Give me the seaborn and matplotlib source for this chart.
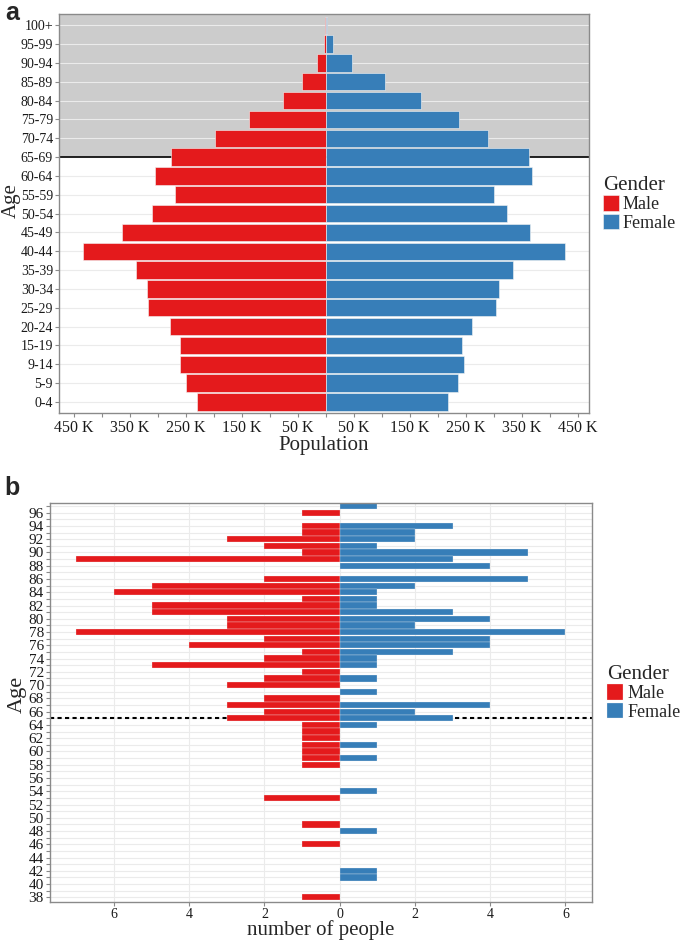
"""Population pyramid (a) and age/gender counts (b) – recreated with seaborn."""
import numpy as np
import pandas as pd
import matplotlib
matplotlib.use("Agg")
import matplotlib.pyplot as plt
import seaborn as sns

# ── DATA ─────────────────────────────────────────────────
# panel a: population by 5-year age group (thousands)
age_groups = ["0-4", "5-9", "9-14", "15-19", "20-24", "25-29", "30-34",
              "35-39", "40-44", "45-49", "50-54", "55-59", "60-64", "65-69",
              "70-74", "75-79", "80-84", "85-89", "90-94", "95-99", "100+"]
male_pop_k = [231, 249, 261, 260, 278, 317, 319, 340, 434, 365, 311, 270,
              305, 276, 198, 137, 77, 42, 15.5, 4, 1]
female_pop_k = [218, 235, 246, 242, 261, 303, 308, 333, 427, 364, 324, 300,
                367, 362, 290, 238, 169, 105, 46, 13, 2]

# panel b: number of people by single year of age (38 ... 97)
ages = list(range(38, 98))
male_count = [1, 0, 0, 0, 0, 0, 0, 0, 1, 0,      # 38-47
              0, 1, 0, 0, 0, 2, 0, 0, 0, 0,      # 48-57
              1, 1, 1, 1, 1, 1, 1, 3, 2, 3,      # 58-67
              2, 0, 3, 2, 1, 5, 2, 1, 4, 2,      # 68-77
              7, 3, 3, 5, 5, 1, 6, 5, 2, 0,      # 78-87
              0, 7, 1, 2, 3, 1, 1, 0, 1, 0]      # 88-97
female_count = [0, 0, 0, 1, 1, 0, 0, 0, 0, 0,    # 38-47
                1, 0, 0, 0, 0, 0, 1, 0, 0, 0,    # 48-57
                0, 1, 0, 1, 0, 0, 1, 3, 2, 4,    # 58-67
                0, 1, 0, 1, 0, 1, 1, 3, 4, 4,    # 68-77
                6, 2, 4, 3, 1, 1, 1, 2, 5, 0,    # 78-87
                4, 3, 5, 1, 2, 2, 3, 0, 0, 1]    # 88-97

RED, BLUE = "#E41A1C", "#377EB8"
palette = {"Male": RED, "Female": BLUE}

sns.set_style("white")
plt.rcParams["font.family"] = ["Liberation Serif", "DejaVu Serif"]

fig = plt.figure(figsize=(6.85, 9.41), dpi=100)
ax1 = fig.add_axes([0.0866, 0.5608, 0.7728, 0.4243])
ax2 = fig.add_axes([0.0730, 0.04145, 0.7908, 0.4243])

# ── PANEL A ──────────────────────────────────────────────
df_a = pd.DataFrame({
    "Age": age_groups * 2,
    "Population": [-v * 1000 for v in male_pop_k] + [v * 1000 for v in female_pop_k],
    "Gender": ["Male"] * len(age_groups) + ["Female"] * len(age_groups),
})
order_a = age_groups[::-1]
sns.barplot(data=df_a, x="Population", y="Age", hue="Gender", order=order_a,
            hue_order=["Male", "Female"], palette=palette, dodge=False,
            orient="h", width=0.92, errorbar=None, saturation=1,
            edgecolor="#F4F4F4", linewidth=0.4, ax=ax1)

idx65 = order_a.index("65-69")
ax1.axhspan(-0.6, idx65, color="#CCCCCC", zorder=0.1, lw=0)
ax1.axhline(idx65, color="black", lw=1.2, zorder=0.8)
ax1.set_ylim(20.6, -0.6)
ax1.set_xlim(-476000, 469000)
ax1.set_axisbelow(True)
ax1.grid(axis="y", color="#EBEBEB", lw=0.8)
ax1.grid(axis="x", visible=False)

xt = np.arange(-450000, 450001, 50000)
ax1.set_xticks(xt)
ax1.set_xticklabels([f"{abs(v) // 1000} K" if (abs(v) // 50000) % 2 == 1 else ""
                     for v in xt], fontsize=11.5)
ax1.set_yticks(range(len(order_a)))
ax1.set_yticklabels(order_a, fontsize=10)
ax1.set_xlabel("Population", fontsize=15)
ax1.xaxis.set_label_coords(0.5, -0.057)
ax1.set_ylabel("Age", fontsize=15)
ax1.yaxis.set_label_coords(-0.072, 0.534)

sns.move_legend(ax1, "upper left", bbox_to_anchor=(603 / 685, 1 - 176 / 941),
                bbox_transform=fig.transFigure, frameon=False, title="Gender",
                fontsize=13, title_fontsize=15, handlelength=0.9,
                handleheight=0.95, labelspacing=0.02, handletextpad=0.2,
                borderpad=0, borderaxespad=0, alignment="left")

# ── PANEL B ──────────────────────────────────────────────
df_b = pd.DataFrame({
    "Age": [str(a) for a in ages] * 2,
    "Count": [-v for v in male_count] + list(female_count),
    "Gender": ["Male"] * len(ages) + ["Female"] * len(ages),
})
df_b = df_b[df_b["Count"] != 0]
order_b = [str(a) for a in ages[::-1]]
sns.barplot(data=df_b, x="Count", y="Age", hue="Gender", order=order_b,
            hue_order=["Male", "Female"], palette=palette, dodge=False,
            orient="h", width=0.94, errorbar=None, saturation=1,
            edgecolor="#F4F4F4", linewidth=0.2, ax=ax2)

ax2.axhline(order_b.index("65"), color="black", lw=1.5, ls=(0, (2, 1.6)),
            zorder=0.8)
ax2.set_ylim(59.7, -0.5)
ax2.set_xlim(-7.7, 6.7)
ax2.set_axisbelow(True)
ax2.grid(axis="both", color="#EBEBEB", lw=0.8)

ax2.set_xticks(range(-6, 7, 2))
ax2.set_xticklabels([str(abs(v)) for v in range(-6, 7, 2)], fontsize=10)
ax2.set_yticks(range(len(order_b)))
ax2.set_yticklabels([a if int(a) % 2 == 0 else "" for a in order_b], fontsize=11)
ax2.set_xlabel("number of people", fontsize=15)
ax2.xaxis.set_label_coords(0.5, -0.046)
ax2.set_ylabel("Age", fontsize=16)
ax2.yaxis.set_label_coords(-0.043, 0.521)

sns.move_legend(ax2, "upper left", bbox_to_anchor=(607 / 685, 1 - 665 / 941),
                bbox_transform=fig.transFigure, frameon=False, title="Gender",
                fontsize=13, title_fontsize=15, handlelength=0.9,
                handleheight=0.95, labelspacing=0.02, handletextpad=0.25,
                borderpad=0, borderaxespad=0, alignment="left")

for ax in (ax1, ax2):
    for sp in ax.spines.values():
        sp.set_visible(True)
        sp.set_color("#8A8A8A")
        sp.set_linewidth(1.0)
    ax.tick_params(axis="both", length=3, width=0.8, color="#8A8A8A",
                   labelcolor="#1A1A1A", pad=1.5, left=True, bottom=True)

fig.text(0.007, 1 - 1 / 941, "a", fontsize=18, fontweight="bold",
         family="Liberation Sans", va="top")
fig.text(0.007, 1 - 476 / 941, "b", fontsize=18, fontweight="bold",
         family="Liberation Sans", va="top")

fig.savefig("out.png", dpi=100)
